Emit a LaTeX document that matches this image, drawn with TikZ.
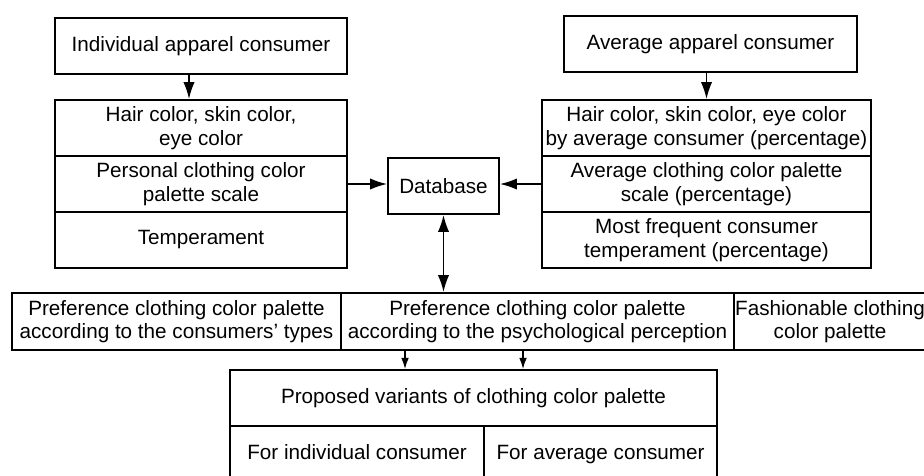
\documentclass[tikz,border=0pt]{standalone}
\usepackage{fontspec}
\setmainfont{Liberation Sans}
\usetikzlibrary{arrows.meta}

\begin{document}
\begin{tikzpicture}[x=0.025cm,y=-0.025cm,
	cell/.style={draw,line width=1.4pt,inner sep=1pt,align=center,minimum height=1.4cm,font=\fontsize{14.7}{16.6}\selectfont},
	arr/.style={line width=1.1pt,-{Latex[length=12pt,width=8pt]}},
	dbl/.style={line width=1.1pt,{Latex[length=12pt,width=8pt]}-{Latex[length=12pt,width=8pt]}},
	tip/.style={line width=0.9pt,-{Latex[length=8pt,width=5.5pt]}}]
	\useasboundingbox (0,0) rectangle (924,475);
	\clip (0,0) rectangle (924,475);
	% left column
	\node[cell,minimum width=7.3cm] (ind) at (201,46) {Individual apparel consumer};
	\node[cell,minimum width=7.3cm] (hairL) at (201,128) {Hair color, skin color,\\eye color};
	\node[cell,minimum width=7.3cm] (palL) at (201,184) {Personal clothing color\\palette scale};
	\node[cell,minimum width=7.3cm] (tempL) at (201,240) {Temperament};
	% right column
	\node[cell,minimum width=7.325cm] (avg) at (710.5,44) {Average apparel consumer};
	\node[cell,minimum width=8.225cm] (hairR) at (706.5,128) {Hair color, skin color, eye color\\by average consumer (percentage)};
	\node[cell,minimum width=8.225cm] (palR) at (706.5,184) {Average clothing color palette\\scale (percentage)};
	\node[cell,minimum width=8.225cm] (tempR) at (706.5,240) {Most frequent consumer\\temperament (percentage)};
	\node[cell,minimum width=2.775cm] (db) at (443.5,186) {Database};
	% preference row
	\node[cell,minimum width=8.225cm,minimum height=1.425cm] (prefT) at (176.5,321.5) {Preference clothing color palette\\according to the consumers' types};
	\node[cell,minimum width=9.825cm,minimum height=1.425cm] (prefP) at (537.5,321.5) {Preference clothing color palette\\according to the psychological perception};
	\node[cell,minimum width=4.8cm,minimum height=1.425cm] (fash) at (830,321.5) {Fashionable clothing\\color palette};
	% proposed variants
	\node[cell,minimum width=12.175cm] (prop) at (473.5,398) {Proposed variants of clothing color palette};
	\node[cell,minimum width=6.35cm,text depth=0.25em] (forInd) at (357,454) {For individual consumer};
	\node[cell,minimum width=5.825cm,text depth=0.25em] (forAvg) at (600.5,454) {For average consumer};
	% arrows
	\draw[arr] ([xshift=-0.3cm]ind.south) -- ([xshift=-0.3cm]hairL.north);
	\draw[arr] (hairR.north |- avg.south) -- (hairR.north);
	\draw[arr] (palL.east) -- (palL.east -| db.west);
	\draw[arr] (palR.west) -- (palR.west -| db.east);
	\draw[dbl] (db.south) -- (db.south |- prefP.north);
	\foreach \x in {405,523}
		\draw[tip] (\x,0 |- prefP.south) -- (\x,0 |- prop.north);
\end{tikzpicture}
\end{document}
